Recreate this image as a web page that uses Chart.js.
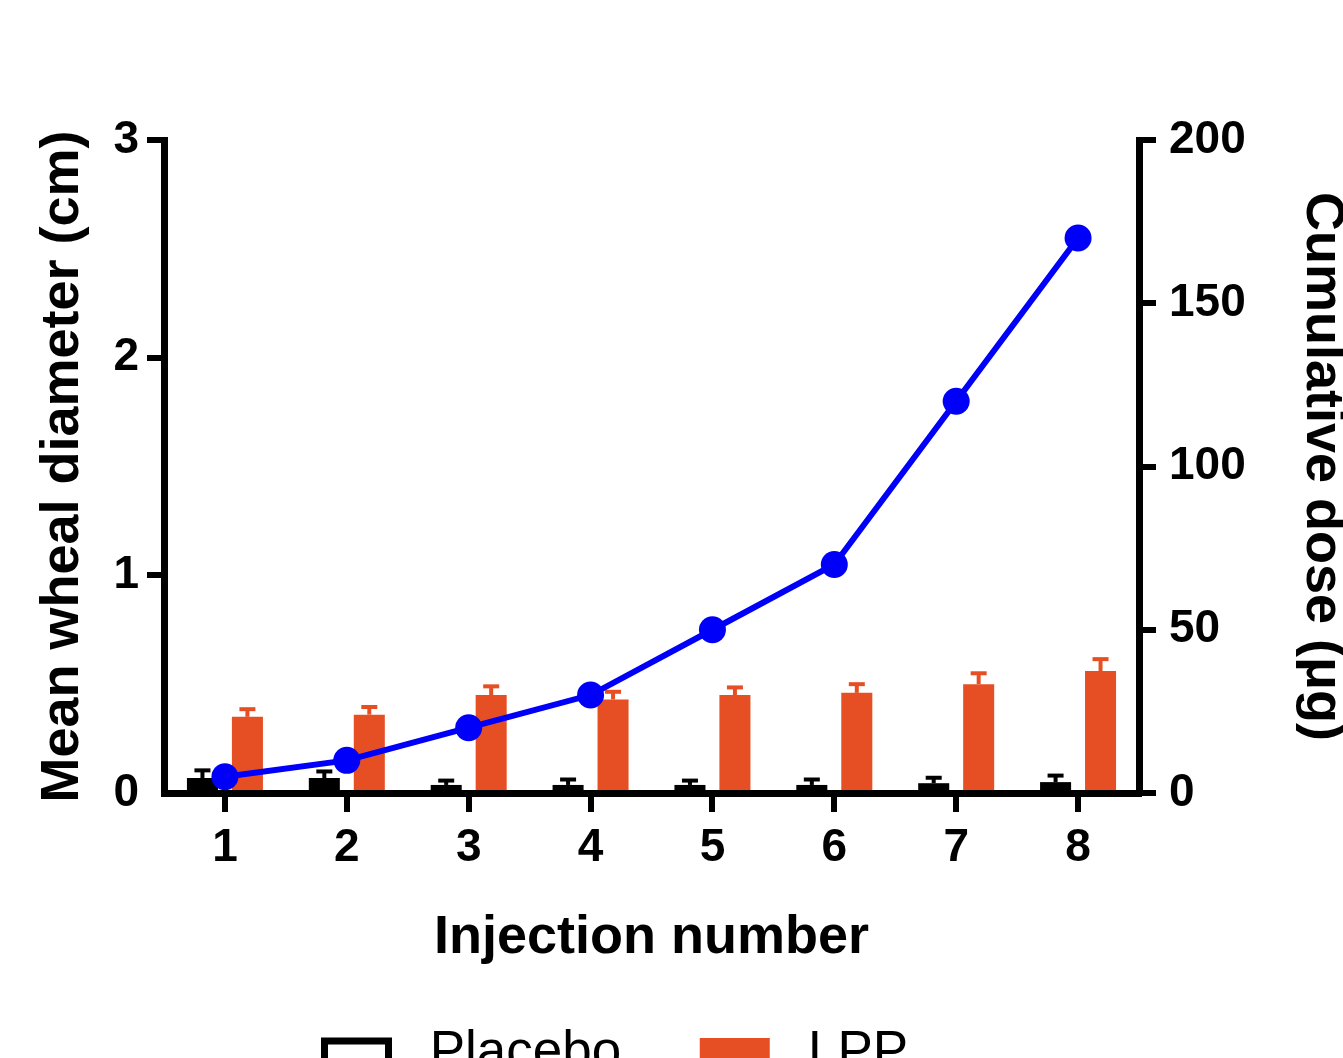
<!DOCTYPE html>
<html>
<head>
<meta charset="utf-8">
<script src="https://cdn.jsdelivr.net/npm/chart.js@4/dist/chart.umd.min.js"></script>
<style>
html,body{margin:0;padding:0;background:#fff;}
#wrap{width:1343px;height:1058px;position:relative;}
</style>
</head>
<body>
<div id="wrap"><canvas id="c"></canvas></div>
<script>
// ---- data ----
const categories = ['1', '2', '3', '4', '5', '6', '7', '8'];
const placebo    = [0.069, 0.069, 0.037, 0.037, 0.037, 0.037, 0.045, 0.05];
const placeboErr = [0.035, 0.03, 0.02, 0.025, 0.02, 0.025, 0.025, 0.03];
const lpp        = [0.35, 0.36, 0.45, 0.43, 0.45, 0.46, 0.50, 0.56];
const lppErr     = [0.035, 0.035, 0.04, 0.035, 0.035, 0.04, 0.05, 0.055];
const cumulativeDose = [5, 10, 20, 30, 50, 70, 120, 170];
const leftAxisMax = 3, leftAxisStep = 1;
const rightAxisMax = 200, rightAxisStep = 50;
const seriesNames = ['Placebo', 'LPP', 'Cumulative dose'];
const axisTitles = { x: 'Injection number', y: 'Mean wheal diameter (cm)', y2: 'Cumulative dose (μg)' };

// ---- styles ----
const ORANGE = 'rgb(230,79,36)';
const BLUE = 'rgb(0,0,250)';
const FONT = "'Liberation Sans', Arial, Helvetica, sans-serif";
Chart.defaults.font.family = FONT;
Chart.defaults.color = '#000';

const errorBars = {
  id: 'errorBars',
  afterDatasetDraw(chart, args) {
    const ds = chart.data.datasets[args.index];
    if (!ds.errors) return;
    const meta = args.meta;
    const yScale = chart.scales[meta.yAxisID];
    const ctx = chart.ctx;
    ctx.save();
    ctx.strokeStyle = ds.errorColor;
    ctx.lineWidth = 4;
    ctx.lineCap = 'butt';
    meta.data.forEach((bar, i) => {
      const yTop = yScale.getPixelForValue(ds.data[i] + ds.errors[i]);
      ctx.beginPath();
      ctx.moveTo(bar.x, bar.y);
      ctx.lineTo(bar.x, yTop);
      ctx.stroke();
      ctx.beginPath();
      ctx.moveTo(bar.x - 8, yTop);
      ctx.lineTo(bar.x + 8, yTop);
      ctx.stroke();
    });
    ctx.restore();
  }
};

const legendPlace = {
  id: 'legendPlace',
  afterLayout(chart) {
    const lg = chart.legend;
    const p = lg.options.labels.padding;
    lg.left = 324.5 - p;
    lg.top = 1026.5 - p;
  }
};

new Chart(document.getElementById('c'), {
  type: 'bar',
  data: {
    labels: categories,
    datasets: [
      {
        label: seriesNames[0], data: placebo, errors: placeboErr, errorColor: '#000',
        backgroundColor: '#000', borderColor: '#000', borderWidth: 0,
        yAxisID: 'y', order: 1,
        categoryPercentage: 0.738, barPercentage: 0.69
      },
      {
        label: seriesNames[1], data: lpp, errors: lppErr, errorColor: ORANGE,
        backgroundColor: ORANGE, borderColor: ORANGE, borderWidth: 0,
        yAxisID: 'y', order: 1,
        categoryPercentage: 0.738, barPercentage: 0.69
      },
      {
        type: 'line', label: seriesNames[2], data: cumulativeDose, yAxisID: 'y2', order: 0,
        borderColor: BLUE, backgroundColor: BLUE, borderWidth: 6,
        pointRadius: 13.5, pointBackgroundColor: BLUE, pointBorderWidth: 0,
        tension: 0, fill: false
      }
    ]
  },
  options: {
    responsive: true,
    maintainAspectRatio: false,
    devicePixelRatio: 1,
    animation: false,
    layout: { padding: { top: 140, left: 0, right: 0, bottom: 0 } },
    plugins: {
      tooltip: { enabled: false },
      legend: {
        position: 'bottom',
        align: 'start',
        maxHeight: 90,
        labels: {
          font: { size: 53, family: FONT },
          color: '#000',
          boxWidth: 64,
          boxHeight: 24,
          padding: 81.5,
          filter: (item) => item.datasetIndex !== 2,
          generateLabels(chart) {
            const items = Chart.defaults.plugins.legend.labels.generateLabels(chart);
            items.forEach(it => {
              it.text = ' ' + it.text;
              if (it.datasetIndex === 0) { it.lineWidth = 7; it.strokeStyle = '#000'; it.fillStyle = '#fff'; }
              if (it.datasetIndex === 1) { it.lineWidth = 6; it.strokeStyle = ORANGE; it.fillStyle = ORANGE; }
            });
            return items;
          }
        }
      }
    },
    scales: {
      x: {
        offset: true,
        grid: { display: true, drawOnChartArea: false, offset: false, tickLength: 19, lineWidth: 6, color: '#000' },
        border: { display: true, color: '#000', width: 7 },
        ticks: { font: { size: 46, weight: 'bold' }, color: '#000', padding: 9 },
        title: { display: true, text: axisTitles.x, font: { size: 54, weight: 'bold' }, color: '#000', padding: { top: 0, bottom: -3 } },
        afterFit(s) { s.height = 175; }
      },
      y: {
        position: 'left',
        min: 0, max: leftAxisMax,
        ticks: { stepSize: leftAxisStep, font: { size: 46, weight: 'bold' }, color: '#000', padding: 8 },
        grid: { drawOnChartArea: false, tickLength: 17, lineWidth: 6,
                color: (c) => (c.tick && c.tick.value === 0) ? 'rgba(0,0,0,0)' : '#000' },
        border: { display: true, color: '#000', width: 7 },
        title: { display: true, text: axisTitles.y, font: { size: 54, weight: 'bold' }, color: '#000', padding: { top: 30.6, bottom: 0 } },
        afterFit(s) { s.width = 164; }
      },
      y2: {
        position: 'right',
        min: 0, max: rightAxisMax,
        ticks: { stepSize: rightAxisStep, font: { size: 46, weight: 'bold' }, color: '#000', padding: 13 },
        grid: { drawOnChartArea: false, tickLength: 17, lineWidth: 6, color: '#000' },
        border: { display: true, color: '#000', width: 7 },
        title: { display: true, text: axisTitles.y2, font: { size: 54, weight: 'bold' }, color: '#000', padding: { top: -11, bottom: 0 } },
        afterFit(s) { s.width = 204; }
      }
    }
  },
  plugins: [errorBars, legendPlace]
});
</script>
</body>
</html>
